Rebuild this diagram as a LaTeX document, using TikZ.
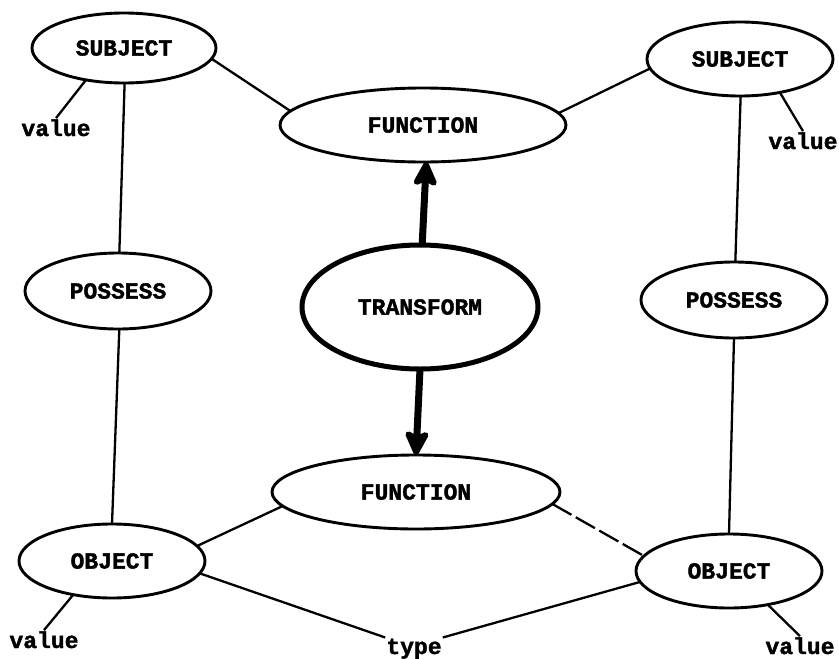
\documentclass[tikz,border=0pt]{standalone}
\usepackage{fontspec}
\setmonofont{Liberation Mono}[BoldFeatures={FakeBold=1.6}]
\usetikzlibrary{shapes.geometric,arrows.meta}
\begin{document}
\begin{tikzpicture}[x=1pt,y=-1pt,
  typeface/.style={font=\ttfamily\bfseries\fontsize{23}{23}\selectfont},
  concept/.style={ellipse,draw,line width=2.9pt,inner sep=0pt,outer sep=0pt,typeface},
  lbl/.style={inner sep=1pt,anchor=base,typeface},
  link/.style={line width=2.3pt},
  bigarrow/.style={line width=7pt,-{Stealth[length=30pt,width=29pt,inset=7pt,round]}}
]
\useasboundingbox[fill=white] (0,0) rectangle (839,659);

% concept ellipses
\node[concept,minimum width=184pt,minimum height=70pt] (subjL) at (124,48) {SUBJECT};
\node[concept,minimum width=186pt,minimum height=74pt] (subjR) at (740,59) {SUBJECT};
\node[concept,minimum width=286pt,minimum height=74pt] (funcT) at (423,125) {FUNCTION};
\node[concept,minimum width=186pt,minimum height=76pt] (possL) at (118,291) {POSSESS};
\node[concept,minimum width=186pt,minimum height=76pt] (possR) at (734,300) {POSSESS};
\node[concept,line width=5pt,minimum width=236pt,minimum height=124pt] (trans) at (420,307) {TRANSFORM};
\node[concept,minimum width=288pt,minimum height=74pt] (funcB) at (416,492) {FUNCTION};
\node[concept,minimum width=186pt,minimum height=74pt] (objL) at (112,561) {OBJECT};
\node[concept,minimum width=186pt,minimum height=74pt] (objR) at (729,571) {OBJECT};

% free labels
\node[lbl] (valTL) at (56,136) {value};
\node[lbl] (valTR) at (803,149) {value};
\node[lbl] (valBL) at (44,648) {value};
\node[lbl] (valBR) at (800,654) {value};
\node[lbl] (type) at (414,654) {type};

% links
\draw[link] (subjL.-7) -- (funcT.174);
\draw[link] (subjR.186) -- (funcT.5);
\draw[link] (subjL.-89) -- (possL.88);
\draw[link] (subjR.-89) -- (possR.88);
\draw[link] (possL.-88) -- (objL.90);
\draw[link] (possR.-90) -- (objR.90);
\draw[link] (subjL.220) -- (valTL.north);
\draw[link] (subjR.-40) -- (valTR.north);
\draw[link] (objL.221) -- (valBL.north);
\draw[link] (objR.-41) -- (valBR.north);
\draw[link] (objL.10) -- (funcB.186);
\draw[link,dash pattern=on 22pt off 5pt] (funcB.-5.5) -- (objR.170);
\draw[link] (objL.-8) -- (type.north west);
\draw[link] (objR.187) -- (type.north east);

% transformation arrows
\draw[bigarrow] (trans.88) -- (funcT.-85);
\draw[bigarrow] (trans.south) -- (funcB.north);
\end{tikzpicture}
\end{document}
